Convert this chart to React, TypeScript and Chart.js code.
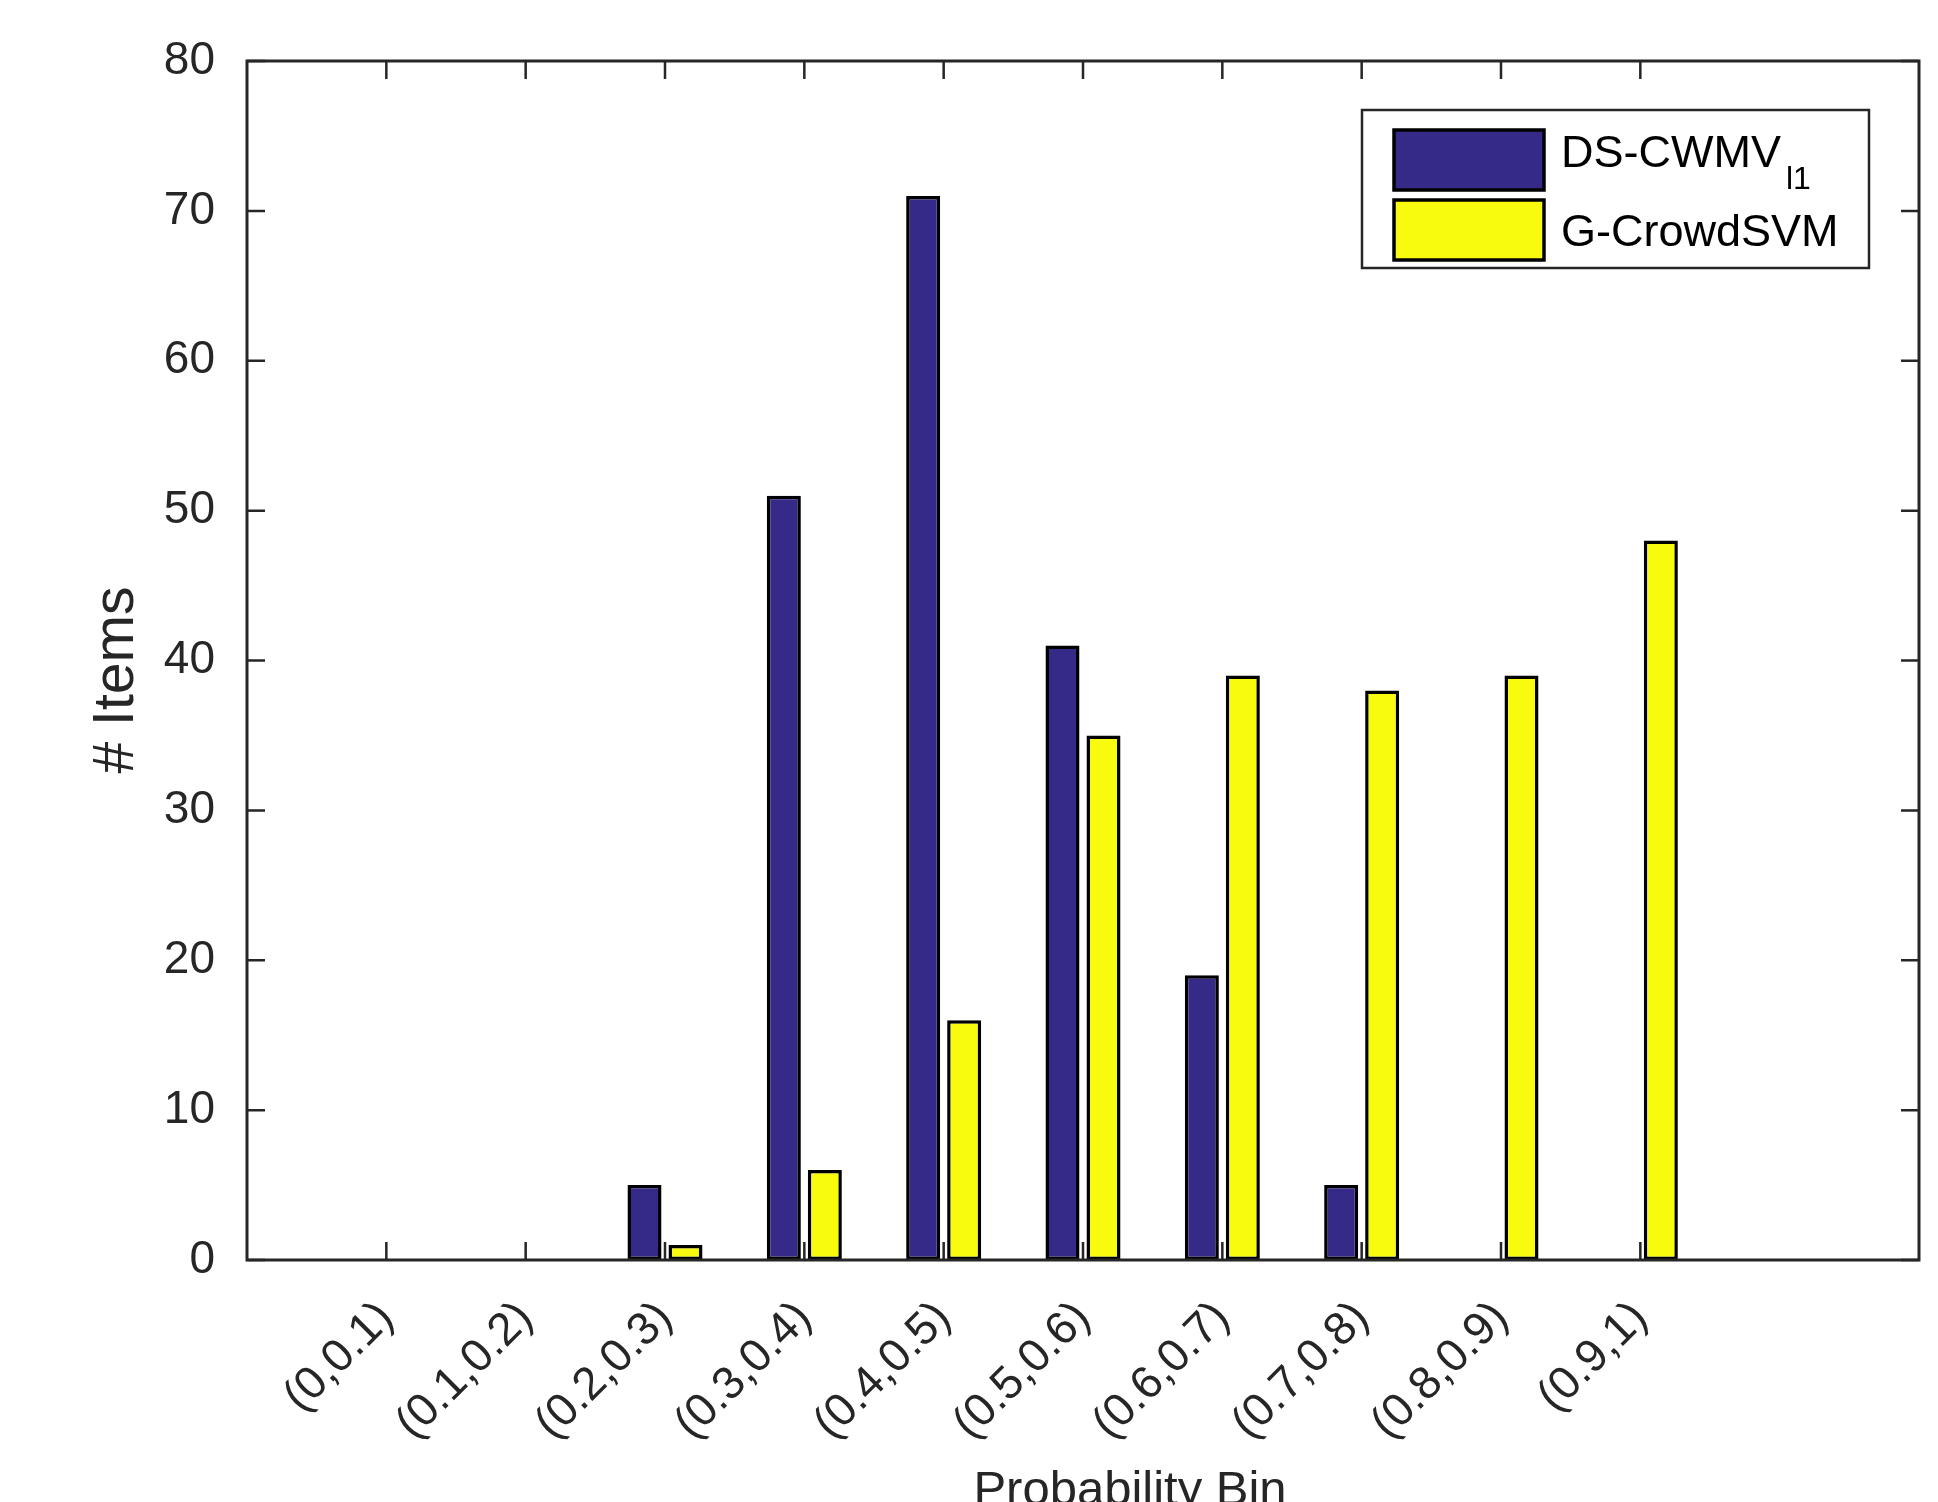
import React, { useEffect, useRef } from "react";
import { Chart, registerables } from "chart.js";

Chart.register(...registerables);

// ---- Data ----
const BIN_LABELS = [
  "(0,0.1)",
  "(0.1,0.2)",
  "(0.2,0.3)",
  "(0.3,0.4)",
  "(0.4,0.5)",
  "(0.5,0.6)",
  "(0.6,0.7)",
  "(0.7,0.8)",
  "(0.8,0.9)",
  "(0.9,1)",
];
const DS_CWMV = [0, 0, 5, 51, 71, 41, 19, 5, 0, 0];
const G_CROWDSVM = [0, 0, 1, 6, 16, 35, 39, 38, 39, 48];
const SERIES_NAMES = ["DS-CWMV", "G-CrowdSVM"];
const SERIES_SUB = ["l1", ""];
const Y_MIN = 0;
const Y_MAX = 80;
const Y_STEP = 10;
const X_MIN = 0;
const X_MAX = 12;
const X_LABEL = "Probability Bin";
const Y_LABEL = "# Items";

// ---- Styles ----
const W = 1938;
const H = 1502;
const FONT = "'Liberation Sans', Arial, Helvetica, sans-serif";
const AXIS_COLOR = "#262626";
const COLORS = ["#352a87", "#f9fb0e"];

const framePlugin = {
  id: "matlabFrame",
  afterDatasetsDraw(chart: any) {
    const { ctx, chartArea } = chart;
    const xs = chart.scales.x;
    const ys = chart.scales.y;
    const { left, right, top, bottom } = chartArea;
    const tl = 18;
    ctx.save();
    ctx.strokeStyle = AXIS_COLOR;
    ctx.lineWidth = 2.5;
    ctx.beginPath();
    for (let i = 0; i < BIN_LABELS.length; i++) {
      const px = xs.getPixelForValue(i + 1);
      ctx.moveTo(px, bottom);
      ctx.lineTo(px, bottom - tl);
      ctx.moveTo(px, top);
      ctx.lineTo(px, top + tl);
    }
    for (let v = Y_MIN; v <= Y_MAX; v += Y_STEP) {
      const py = ys.getPixelForValue(v);
      ctx.moveTo(left, py);
      ctx.lineTo(left + tl, py);
      ctx.moveTo(right, py);
      ctx.lineTo(right - tl, py);
    }
    ctx.stroke();
    ctx.lineWidth = 3;
    ctx.strokeRect(left, top, right - left, bottom - top);

    // axis titles
    ctx.fillStyle = AXIS_COLOR;
    ctx.font = `49px ${FONT}`;
    ctx.textAlign = "center";
    ctx.textBaseline = "alphabetic";
    ctx.fillText(X_LABEL, 1130, 1505);

    ctx.save();
    ctx.translate(133, 680);
    ctx.rotate(-Math.PI / 2);
    ctx.font = `57px ${FONT}`;
    ctx.fillText(Y_LABEL, 0, 0);
    ctx.restore();

    // legend
    const bx = 1362, by = 110, bw = 507, bh = 158;
    ctx.fillStyle = "#ffffff";
    ctx.fillRect(bx, by, bw, bh);
    ctx.lineWidth = 2.5;
    ctx.strokeStyle = AXIS_COLOR;
    ctx.strokeRect(bx, by, bw, bh);
    const rows = [
      { sy: 130, base: 167 },
      { sy: 200, base: 246 },
    ];
    rows.forEach((r, i) => {
      ctx.fillStyle = COLORS[i];
      ctx.fillRect(1394, r.sy, 150, 60);
      ctx.strokeStyle = "#000";
      ctx.lineWidth = 3.5;
      ctx.strokeRect(1394, r.sy, 150, 60);
      ctx.fillStyle = "#000";
      ctx.textAlign = "left";
      ctx.textBaseline = "alphabetic";
      ctx.font = `45px ${FONT}`;
      ctx.fillText(SERIES_NAMES[i], 1561, r.base);
      if (SERIES_SUB[i]) {
        const w = ctx.measureText(SERIES_NAMES[i]).width;
        ctx.font = `32px ${FONT}`;
        ctx.fillText(SERIES_SUB[i], 1561 + w + 5, r.base + 22);
      }
    });
    ctx.restore();
  },
};

export default function App() {
  const ref = useRef<HTMLCanvasElement | null>(null);

  useEffect(() => {
    if (!ref.current) return;
    const mk = (vals: number[]) => vals.map((v, i) => ({ x: i + 1, y: v }));
    const chart = new Chart(ref.current, {
      type: "bar",
      data: {
        datasets: [
          {
            label: SERIES_NAMES[0],
            data: mk(DS_CWMV),
            backgroundColor: COLORS[0],
            borderColor: "#000",
            borderWidth: 3.5,
            borderSkipped: false,
          },
          {
            label: SERIES_NAMES[1],
            data: mk(G_CROWDSVM),
            backgroundColor: COLORS[1],
            borderColor: "#000",
            borderWidth: 3.5,
            borderSkipped: false,
          },
        ],
      },
      options: {
        responsive: false,
        animation: false,
        devicePixelRatio: 1,
        categoryPercentage: 0.5885,
        barPercentage: 0.83,
        layout: { padding: { top: 61, right: W - 1919, left: 0, bottom: 0 } },
        plugins: {
          legend: { display: false },
          tooltip: { enabled: false },
        },
        scales: {
          x: {
            type: "linear",
            offset: false,
            min: X_MIN,
            max: X_MAX,
            grid: { display: false, drawTicks: false, offset: false },
            border: { display: false },
            afterFit: (s: any) => {
              s.height = H - 1260;
              s.paddingLeft = 0;
              s.paddingRight = 0;
            },
            afterBuildTicks: (s: any) => {
              const t = [];
              for (let v = X_MIN; v <= X_MAX; v++) t.push({ value: v });
              s.ticks = t;
            },
            ticks: {
              autoSkip: false,
              stepSize: 1,
              minRotation: 45,
              maxRotation: 45,
              padding: 31,
              color: AXIS_COLOR,
              font: { family: FONT, size: 46 },
              callback: (v: any) => BIN_LABELS[Number(v) - 1] ?? "",
            },
          },
          y: {
            type: "linear",
            min: Y_MIN,
            max: Y_MAX,
            grid: { display: false, drawTicks: false },
            border: { display: false },
            afterFit: (s: any) => {
              s.width = 247;
              s.paddingTop = 0;
              s.paddingBottom = 0;
            },
            ticks: {
              stepSize: Y_STEP,
              padding: 32,
              color: AXIS_COLOR,
              font: { family: FONT, size: 46 },
            },
          },
        },
      },
      plugins: [framePlugin],
    } as any);
    return () => chart.destroy();
  }, []);

  return (
    <div
      style={{
        position: "fixed",
        left: 0,
        top: 0,
        width: W,
        height: H,
        background: "#fff",
      }}
    >
      <canvas ref={ref} width={W} height={H} style={{ display: "block" }} />
    </div>
  );
}
